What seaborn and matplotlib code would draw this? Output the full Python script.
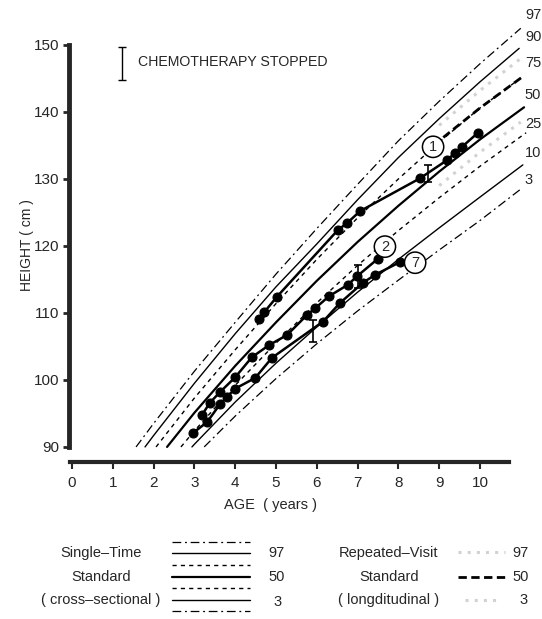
import matplotlib
matplotlib.use("Agg")
import matplotlib.pyplot as plt
from matplotlib.lines import Line2D
import numpy as np
import pandas as pd
import seaborn as sns

# ---------------- data ----------------
# cross-sectional ("single-time") percentile curves: age (years), height (cm)
p97_age = [1.57, 2, 3, 4, 5, 6, 7, 8, 9, 10, 11.0]
p97_h = [90, 93.5, 101.3, 108.6, 115.8, 122.6, 129.2, 135.7, 141.6, 147.2, 152.5]
p90_age = [1.79, 2, 3, 4, 5, 6, 7, 8, 9, 10, 10.96]
p90_h = [90, 91.7, 99.5, 106.9, 113.9, 120.3, 126.9, 133.2, 139.0, 144.5, 149.5]
p75_age = [2.06, 3, 4, 5, 6, 7, 8, 9, 10, 11.03]
p75_h = [90, 97.3, 104.5, 111.4, 118.0, 124.2, 130.0, 135.5, 140.6, 145.2]
p50_age = [2.33, 3, 4, 5, 6, 7, 8, 9, 10, 11.08]
p50_h = [90, 95.1, 102.1, 108.6, 114.8, 120.6, 126.0, 131.1, 135.9, 140.7]
p25_age = [2.67, 3, 4, 5, 6, 7, 8, 9, 10, 11.13]
p25_h = [90, 92.4, 99.2, 105.5, 111.5, 117.1, 122.3, 127.2, 131.9, 136.9]
p10_age = [2.94, 3, 4, 5, 6, 7, 8, 9, 10, 11.05]
p10_h = [90, 90.4, 96.7, 102.5, 107.9, 113.1, 118.0, 122.7, 127.3, 132.1]
p3_age = [3.24, 4, 5, 6, 7, 8, 9, 10, 10.98]
p3_h = [90, 94.6, 100.2, 105.4, 110.3, 114.9, 119.4, 123.8, 128.4]

# longitudinal ("repeated-visit") standard segments
l97_age = [9.0, 10.0, 11.0]
l97_h = [138.0, 143.2, 148.0]
l50_age = [9.1, 10.0, 11.03]
l50_h = [136.2, 140.6, 145.2]
l3_age = [9.0, 10.0, 11.0]
l3_h = [129.0, 134.0, 138.5]

pct_labels = ["97", "90", "75", "50", "25", "10", "3"]
pct_label_h = [154.5, 151.2, 147.3, 142.5, 138.2, 133.9, 129.9]

# patients
pt1_age = [4.58, 4.71, 5.02, 6.52, 6.74, 7.06, 8.53, 9.19, 9.39, 9.56, 9.95]
pt1_h = [109.1, 110.1, 112.4, 122.4, 123.4, 125.2, 130.1, 132.8, 133.9, 134.8, 136.9]
pt2_age = [3.19, 3.38, 3.63, 4.00, 4.41, 4.83, 5.27, 5.76, 5.96, 6.30, 6.76, 6.99, 7.50]
pt2_h = [94.8, 96.6, 98.2, 100.4, 103.4, 105.2, 106.7, 109.7, 110.7, 112.5, 114.2, 115.5, 118.1]
pt7_age = [2.97, 3.31, 3.63, 3.80, 4.00, 4.49, 4.90, 6.15, 6.57, 7.13, 7.43, 8.04]
pt7_h = [92.1, 93.7, 96.4, 97.5, 98.7, 100.3, 103.3, 108.7, 111.5, 114.5, 115.7, 117.6]
patient_ids = ["1", "2", "7"]
patient_label_age = [8.85, 7.67, 8.41]
patient_label_h = [134.8, 119.9, 117.5]

# chemotherapy stopped markers
chemo_age = [8.73, 7.01, 5.90]
chemo_low = [129.6, 113.7, 105.7]
chemo_high = [132.1, 117.2, 109.0]

x_ticks = [0, 1, 2, 3, 4, 5, 6, 7, 8, 9, 10]
y_ticks = [90, 100, 110, 120, 130, 140, 150]

# ---------------- style ----------------
sns.set_style("ticks")
plt.rcParams["font.family"] = ["Liberation Sans", "DejaVu Sans"]

W, H = 542, 619
fig = plt.figure(figsize=(W / 100, H / 100), dpi=100)

PX_X = 40.8  # px per year
PX_Y = 6.7   # px per cm
xmin, xmax = -0.08, 11.3
ymin, ymax = 87.75, 153.5
left_px = 72 + xmin * PX_X
right_px = 72 + xmax * PX_X
top_px = 45 - (ymax - 150) * PX_Y
bot_px = 462
ax = fig.add_axes([left_px / W, (H - bot_px) / H, (right_px - left_px) / W, (bot_px - top_px) / H])
ax.set_xlim(xmin, xmax)
ax.set_ylim(ymin, ymax)

styles = {
    "97": dict(ls=(0, (7, 3, 1.5, 3)), lw=0.9),
    "90": dict(ls="-", lw=1.0),
    "75": dict(ls=(0, (3, 3)), lw=1.0),
    "50": dict(ls="-", lw=1.6),
    "25": dict(ls=(0, (3, 3)), lw=1.0),
    "10": dict(ls="-", lw=1.0),
    "3": dict(ls=(0, (7, 3, 1.5, 3)), lw=0.9),
}
curves = [("97", p97_age, p97_h), ("90", p90_age, p90_h), ("75", p75_age, p75_h),
          ("50", p50_age, p50_h), ("25", p25_age, p25_h), ("10", p10_age, p10_h),
          ("3", p3_age, p3_h)]
for name, a, h in curves:
    st = styles[name]
    sns.lineplot(x=a, y=h, ax=ax, color="black", linewidth=st["lw"], linestyle=st["ls"],
                 estimator=None, sort=False, legend=False)

# longitudinal
stip = dict(color="#d2d2d2", linewidth=2.2, linestyle=(0, (1, 2)))
sns.lineplot(x=l97_age, y=l97_h, ax=ax, estimator=None, sort=False, legend=False, **stip)
sns.lineplot(x=l3_age, y=l3_h, ax=ax, estimator=None, sort=False, legend=False, **stip)
sns.lineplot(x=l50_age, y=l50_h, ax=ax, color="black", linewidth=2.0, linestyle=(0, (3, 1.6)),
             estimator=None, sort=False, legend=False)

for name, yy in zip(pct_labels, pct_label_h):
    ax.text(11.1, yy, name, ha="left", va="center", fontsize=10.5, clip_on=False)

# patients
for a, h in [(pt1_age, pt1_h), (pt2_age, pt2_h), (pt7_age, pt7_h)]:
    sns.lineplot(x=a, y=h, ax=ax, color="black", linewidth=1.8, marker="o", markersize=6.5,
                 markeredgecolor="black", estimator=None, sort=False, legend=False)

for pid, a, h in zip(patient_ids, patient_label_age, patient_label_h):
    ax.text(a, h, pid, ha="center", va="center", fontsize=10.5,
            bbox=dict(boxstyle="circle,pad=0.25", fc="white", ec="black", lw=1.1))

# chemo stopped bars
mid = [(l + u) / 2 for l, u in zip(chemo_low, chemo_high)]
err = [[m - l for m, l in zip(mid, chemo_low)], [u - m for m, u in zip(mid, chemo_high)]]
ax.errorbar(chemo_age, mid, yerr=err, fmt="none", ecolor="black", elinewidth=1.2, capsize=3, capthick=1.2)
ax.errorbar([1.225], [147.25], yerr=[[2.45], [2.45]], fmt="none", ecolor="black", elinewidth=1.0,
            capsize=3, capthick=1.0)
ax.text(1.62, 147.4, "CHEMOTHERAPY STOPPED", ha="left", va="center", fontsize=10.2)

# axes styling
sns.despine(ax=ax, top=True, right=True)
ax.spines["left"].set_bounds(90, 150)
ax.spines["left"].set_linewidth(3.5)
ax.spines["bottom"].set_bounds(-0.05, 10.7)
ax.spines["bottom"].set_linewidth(3.0)
ax.set_xticks(x_ticks)
ax.set_yticks(y_ticks)
ax.set_xticklabels([str(v) for v in x_ticks])
ax.set_yticklabels([str(v) for v in y_ticks])
ax.tick_params(axis="y", length=4, width=2, pad=3, labelsize=11)
ax.tick_params(axis="x", length=5, width=1.5, pad=5, labelsize=11)
ax.set_xlabel("")
ax.set_ylabel("")

def fx(x):
    return x / W

def fy(y):
    return 1 - y / H

fig.text(fx(270), fy(505), "AGE  ( years )", ha="center", va="center", fontsize=10.5)
fig.text(fx(27), fy(245), "HEIGHT ( cm )", ha="center", va="center", rotation=90, fontsize=10)

# bottom legend (left: cross-sectional)
key_styles = [("97", 542), ("90", 553), ("75", 565), ("50", 577), ("25", 588), ("10", 600), ("3", 611)]
for name, yy in key_styles:
    st = styles[name]
    fig.add_artist(Line2D([fx(172), fx(250)], [fy(yy), fy(yy)], color="black",
                          linewidth=st["lw"], linestyle=st["ls"], transform=fig.transFigure))
for txt, xx, yy in [("97", 268, 553), ("50", 268, 577), ("3", 273, 602)]:
    fig.text(fx(xx), fy(yy), txt, ha="left", va="center", fontsize=10.5)
for txt, yy in [("Single\u2013Time", 553), ("Standard", 577), ("( cross\u2013sectional )", 600)]:
    fig.text(fx(101), fy(yy), txt, ha="center", va="center", fontsize=10.5)

# bottom legend (right: longitudinal)
for txt, yy in [("Repeated\u2013Visit", 553), ("Standard", 577), ("( longditudinal )", 600)]:
    fig.text(fx(389), fy(yy), txt, ha="center", va="center", fontsize=10.5)
fig.add_artist(Line2D([fx(458), fx(505)], [fy(552), fy(552)], transform=fig.transFigure, **stip))
fig.add_artist(Line2D([fx(458), fx(508)], [fy(577), fy(577)], color="black", linewidth=2.0,
                      linestyle=(0, (3, 1.6)), transform=fig.transFigure))
fig.add_artist(Line2D([fx(465), fx(500)], [fy(600), fy(600)], transform=fig.transFigure, **stip))
for txt, xx, yy in [("97", 512, 553), ("50", 512, 577), ("3", 519, 600)]:
    fig.text(fx(xx), fy(yy), txt, ha="left", va="center", fontsize=10.5)

fig.savefig("out.png", dpi=100)
